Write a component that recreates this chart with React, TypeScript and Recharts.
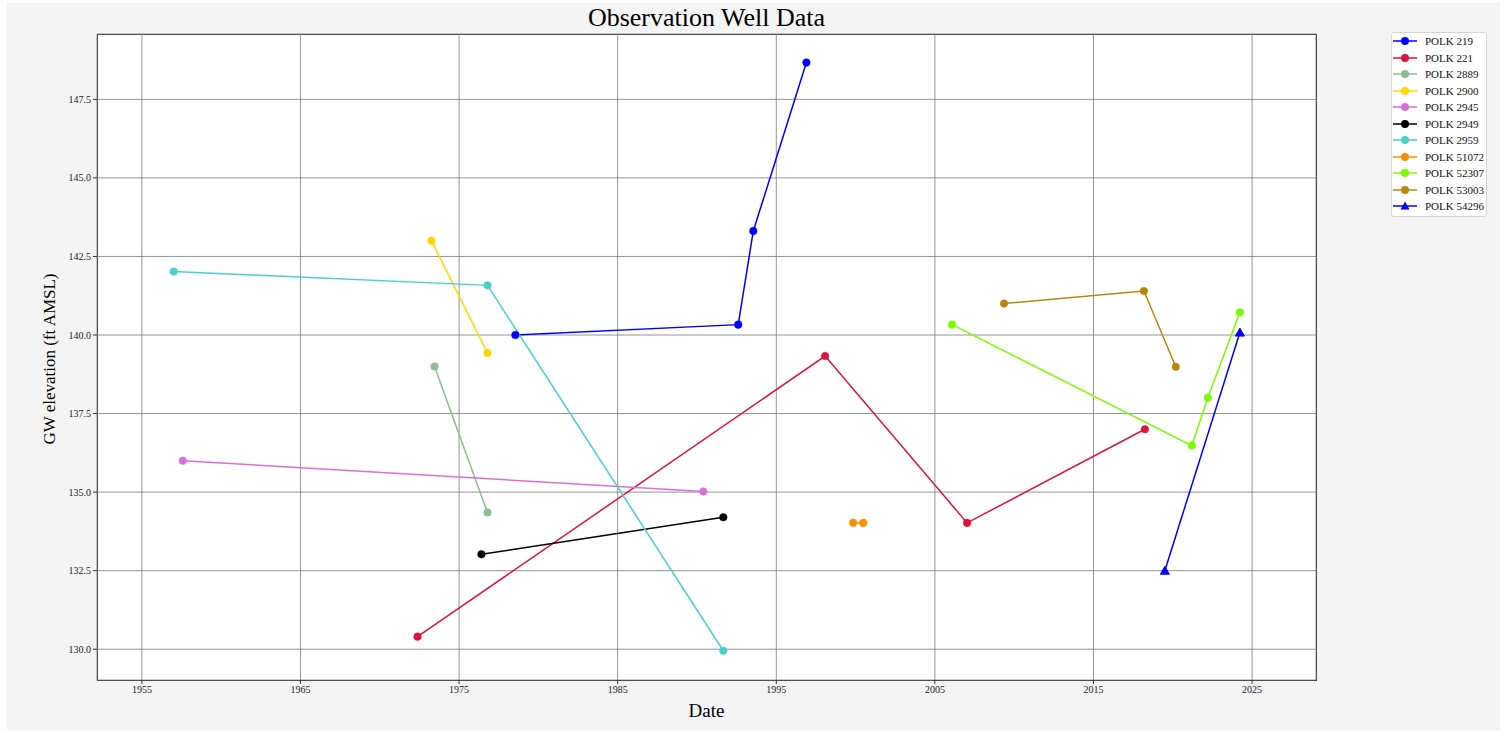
import React from 'react';
import { LineChart, Line, XAxis, YAxis, CartesianGrid } from 'recharts';

// dates as decimal years, values in ft AMSL
const polk219Dates = [1978.55, 1992.6, 1993.55, 1996.9];
const polk219Values = [140.0, 140.33, 143.31, 148.67];
const polk221Dates = [1972.38, 1998.08, 2007.03, 2018.24];
const polk221Values = [130.4, 139.33, 134.02, 137.0];
const polk2889Dates = [1973.45, 1976.79];
const polk2889Values = [139.0, 134.35];
const polk2900Dates = [1973.26, 1976.79];
const polk2900Values = [143.0, 139.43];
const polk2945Dates = [1957.58, 1990.4];
const polk2945Values = [136.0, 135.02];
const polk2949Dates = [1976.41, 1991.66];
const polk2949Values = [133.02, 134.2];
const polk2959Dates = [1957.01, 1976.79, 1991.66];
const polk2959Values = [142.02, 141.58, 129.95];
const polk51072Dates = [1999.85, 2000.48];
const polk51072Values = [134.02, 134.02];
const polk52307Dates = [2006.08, 2021.2, 2022.21, 2024.23];
const polk52307Values = [140.33, 136.48, 138.0, 140.72];
const polk53003Dates = [2009.36, 2018.18, 2020.19];
const polk53003Values = [141.0, 141.4, 138.99];
const polk54296Dates = [2019.5, 2024.23];
const polk54296Values = [132.5, 140.08];

const xTicks = [1955, 1965, 1975, 1985, 1995, 2005, 2015, 2025];
const yTicks = [130, 132.5, 135, 137.5, 140, 142.5, 145, 147.5];

const toPoints = (dates: number[], values: number[]) =>
  dates.map((d, i) => ({ x: d, y: values[i] }));

const series = [
  { name: 'POLK 219', color: '#0000FF', marker: 'circle', data: toPoints(polk219Dates, polk219Values) },
  { name: 'POLK 221', color: '#DC143C', marker: 'circle', data: toPoints(polk221Dates, polk221Values) },
  { name: 'POLK 2889', color: '#8FBC8F', marker: 'circle', data: toPoints(polk2889Dates, polk2889Values) },
  { name: 'POLK 2900', color: '#FFD700', marker: 'circle', data: toPoints(polk2900Dates, polk2900Values) },
  { name: 'POLK 2945', color: '#DA70D6', marker: 'circle', data: toPoints(polk2945Dates, polk2945Values) },
  { name: 'POLK 2949', color: '#000000', marker: 'circle', data: toPoints(polk2949Dates, polk2949Values) },
  { name: 'POLK 2959', color: '#48D1CC', marker: 'circle', data: toPoints(polk2959Dates, polk2959Values) },
  { name: 'POLK 51072', color: '#FF8C00', marker: 'circle', data: toPoints(polk51072Dates, polk51072Values) },
  { name: 'POLK 52307', color: '#7CFC00', marker: 'circle', data: toPoints(polk52307Dates, polk52307Values) },
  { name: 'POLK 53003', color: '#B8860B', marker: 'circle', data: toPoints(polk53003Dates, polk53003Values) },
  { name: 'POLK 54296', color: '#0000FF', marker: 'triangle', data: toPoints(polk54296Dates, polk54296Values) },
];

const FONT = '"Liberation Serif", "Times New Roman", serif';

const W = 1493;
const H = 728;
const margin = { top: 31, right: 184, bottom: 21, left: 30 };
const yAxisWidth = 60;
const xAxisHeight = 30;
const plotLeft = margin.left + yAxisWidth;
const plotTop = margin.top;
const plotW = W - plotLeft - margin.right;
const plotH = H - margin.top - margin.bottom - xAxisHeight;

const triangleDot = (color: string) => (props: any) => {
  const { cx, cy, key } = props;
  if (cx == null || cy == null) return <g key={key} />;
  const s = 4.5;
  return (
    <polygon
      key={key}
      points={`${cx},${cy - s} ${cx - s},${cy + s * 0.8} ${cx + s},${cy + s * 0.8}`}
      fill={color}
      stroke={color}
    />
  );
};

const LegendMarker = ({ color, marker }: { color: string; marker: string }) => (
  <svg width={26} height={10} style={{ display: 'block' }}>
    <line x1={1} y1={5} x2={25} y2={5} stroke={color} strokeWidth={1.5} />
    {marker === 'triangle' ? (
      <polygon points="13,0.5 8.5,8.6 17.5,8.6" fill={color} />
    ) : (
      <circle cx={13} cy={5} r={4} fill={color} />
    )}
  </svg>
);

const App = () => {
  return (
    <div
      style={{
        position: 'absolute',
        left: 7,
        top: 3,
        width: W,
        height: H,
        background: '#f4f4f4',
        fontFamily: FONT,
      }}
    >
      {/* white plot box with frame */}
      <div
        style={{
          position: 'absolute',
          left: plotLeft,
          top: plotTop,
          width: plotW + 1,
          height: plotH + 1,
          background: '#fff',
          border: '1px solid #333',
          boxSizing: 'border-box',
        }}
      />
      <div
        style={{
          position: 'absolute',
          left: plotLeft,
          width: plotW,
          top: 0,
          textAlign: 'center',
          fontSize: 26,
          lineHeight: '30px',
          color: '#000',
        }}
      >
        Observation Well Data
      </div>
      <div style={{ position: 'absolute', left: 0, top: 0 }}>
        <LineChart width={W} height={H} margin={margin}>
          <CartesianGrid stroke="#7a7a7a" strokeWidth={0.8} />
          <XAxis
            type="number"
            dataKey="x"
            domain={[1952.17, 2029.03]}
            ticks={xTicks}
            allowDataOverflow
            axisLine={false}
            tickSize={4}
            tickLine={{ stroke: '#333' }}
            tick={{ fontSize: 10, fill: '#222', fontFamily: FONT }}
            height={xAxisHeight}
          />
          <YAxis
            type="number"
            dataKey="y"
            domain={[129.02, 149.58]}
            ticks={yTicks}
            allowDataOverflow
            axisLine={false}
            tickSize={4}
            tickLine={{ stroke: '#333' }}
            tick={{ fontSize: 10, fill: '#222', fontFamily: FONT }}
            tickFormatter={(v: number) => v.toFixed(1)}
            width={yAxisWidth}
          />
          {series.map((s) => (
            <Line
              key={s.name}
              data={s.data}
              dataKey="y"
              name={s.name}
              type="linear"
              stroke={s.color}
              strokeWidth={1.5}
              dot={s.marker === 'triangle' ? triangleDot(s.color) : { r: 3.8, fill: s.color, stroke: s.color, strokeWidth: 0.5 }}
              activeDot={false}
              isAnimationActive={false}
            />
          ))}
        </LineChart>
      </div>
      {/* axis titles */}
      <div
        style={{
          position: 'absolute',
          left: plotLeft,
          width: plotW,
          top: 696,
          textAlign: 'center',
          fontSize: 19,
          lineHeight: '24px',
        }}
      >
        Date
      </div>
      <div
        style={{
          position: 'absolute',
          left: 43 - 150,
          top: 356 - 12,
          width: 300,
          textAlign: 'center',
          fontSize: 17,
          lineHeight: '24px',
          transform: 'rotate(-90deg)',
        }}
      >
        GW elevation (ft AMSL)
      </div>
      {/* legend */}
      <div
        style={{
          position: 'absolute',
          left: 1384,
          top: 29,
          width: 96,
          height: 185,
          background: '#fff',
          border: '1px solid #d6d6d6',
          borderRadius: 3,
          boxSizing: 'border-box',
        }}
      >
        {series.map((s) => (
          <div
            key={s.name}
            style={{ display: 'flex', alignItems: 'center', height: 16.5 }}
          >
            <LegendMarker color={s.color} marker={s.marker} />
            <span style={{ fontSize: 11, marginLeft: 7, color: '#111', whiteSpace: 'nowrap' }}>{s.name}</span>
          </div>
        ))}
      </div>
    </div>
  );
};

export default App;
